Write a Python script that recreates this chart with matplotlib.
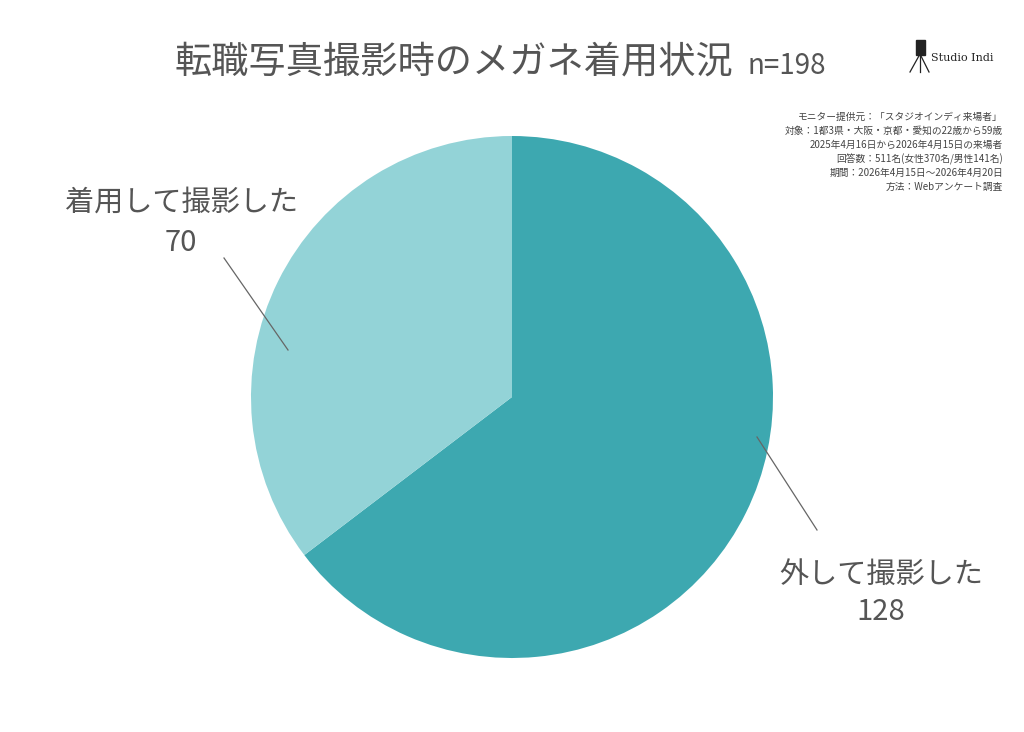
import matplotlib
matplotlib.use("Agg")
import matplotlib.pyplot as plt
from matplotlib.lines import Line2D
from matplotlib.patches import Rectangle

plt.rcParams['font.family'] = ['Noto Sans CJK JP', 'DejaVu Sans']

labels = ['外して撮影した', '着用して撮影した']
values = [128, 70]
colors = ['#3da8b0', '#93d3d7']
title = '転職写真撮影時のメガネ着用状況'
n_text = 'n=198'
source_lines = [
    'モニター提供元：「スタジオインディ来場者」',
    '対象：1都3県・大阪・京都・愛知の22歳から59歳',
    '2025年4月16日から2026年4月15日の来場者',
    '回答数：511名(女性370名/男性141名)',
    '期間：2026年4月15日～2026年4月20日',
    '方法：Webアンケート調査',
]
text_color = '#555555'

W, H = 1024, 732
fig = plt.figure(figsize=(W / 100, H / 100), dpi=100)
fig.patch.set_facecolor('white')

# pie axes: centre (512, 397) px, radius 261 px
cx, cy, r = 512, 397, 261
ax = fig.add_axes([(cx - r) / W, (H - cy - r) / H, 2 * r / W, 2 * r / H])
ax.pie(values, colors=colors, startangle=90, counterclock=False, radius=1,
       wedgeprops=dict(linewidth=0))
ax.set_xlim(-1, 1)
ax.set_ylim(-1, 1)
ax.set_axis_off()


def px(x, y):
    return (x - cx) / r, (cy - y) / r


# leader lines
for (x0, y0), (x1, y1) in [((224, 258), (288, 350)), ((757, 437), (817, 530))]:
    a, b = px(x0, y0)
    c, d = px(x1, y1)
    ax.add_line(Line2D([a, c], [b, d], color='#666666', lw=0.9, clip_on=False))

# slice labels
fs = 21
fig.text(181 / W, 1 - 203 / H, labels[1], ha='center', va='center',
         fontsize=fs, color=text_color)
fig.text(181 / W, 1 - 243 / H, str(values[1]), ha='center', va='center',
         fontsize=fs, color=text_color)
fig.text(881 / W, 1 - 575 / H, labels[0], ha='center', va='center',
         fontsize=fs, color=text_color)
fig.text(881 / W, 1 - 612 / H, str(values[0]), ha='center', va='center',
         fontsize=fs, color=text_color)

# title
fig.text(175 / W, 1 - 62 / H, title, ha='left', va='center',
         fontsize=26.8, color=text_color)
fig.text(747 / W, 1 - 66 / H, n_text, ha='left', va='center',
         fontsize=20, color=text_color)

# source notes
for i, line in enumerate(source_lines):
    fig.text(1003 / W, 1 - (117 + i * 14) / H, line, ha='right', va='center',
             fontsize=7, color='#444444')

# logo: camera on tripod + text
lc = '#222222'
fig.add_artist(Rectangle((916 / W, 1 - 55 / H), 9 / W, 15 / H,
                         transform=fig.transFigure, color=lc))
for x_end in (910, 920, 929):
    fig.add_artist(Line2D([920 / W, x_end / W], [1 - 54 / H, 1 - 72 / H],
                          transform=fig.transFigure, color=lc, lw=0.9))
fig.text(931 / W, 1 - 58 / H, 'Studio Indi', ha='left', va='center',
         fontsize=8, color=lc, family='DejaVu Serif')

fig.savefig('out.png', dpi=100, facecolor='white')
